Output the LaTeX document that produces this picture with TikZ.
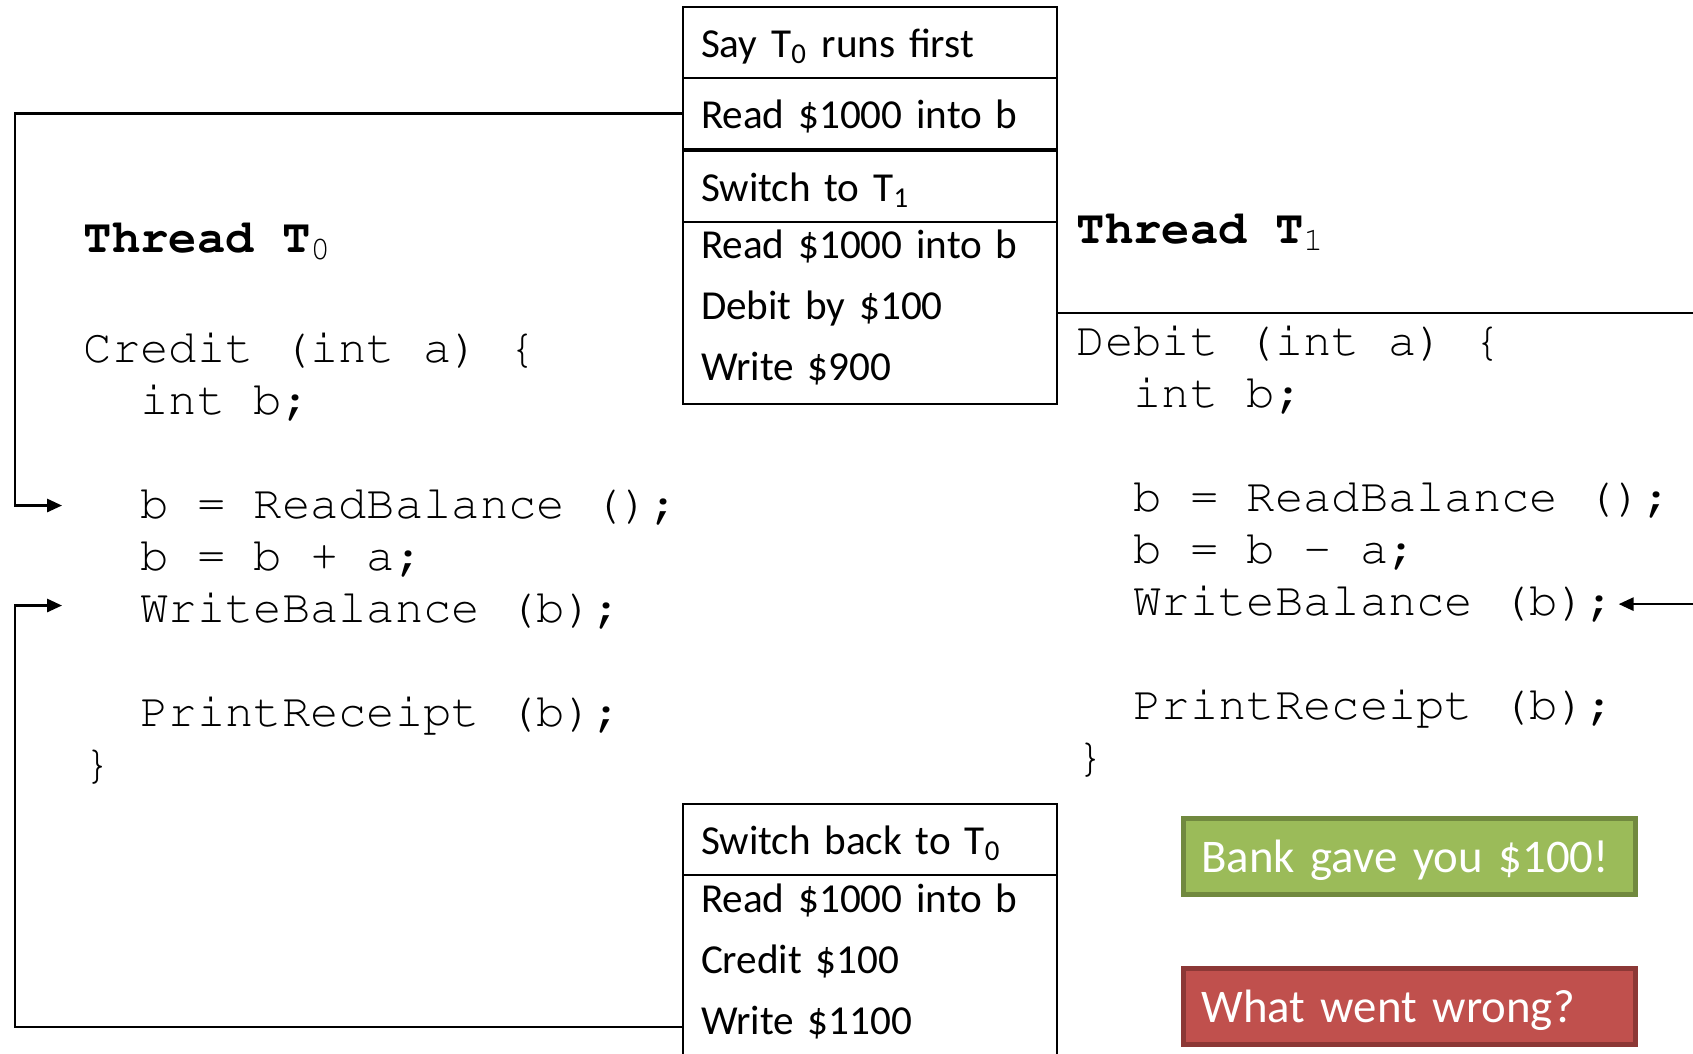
\documentclass[tikz,border=0pt]{standalone}
\usepackage[T1]{fontenc}
\usepackage{fontspec}
\setmainfont{Carlito}
\setmonofont{Liberation Mono}
\usetikzlibrary{positioning, chains, arrows.meta}

\definecolor{okgreen}{HTML}{9BBB59}
\definecolor{okgreenline}{HTML}{71893F}
\definecolor{badred}{HTML}{C0504D}
\definecolor{badredline}{HTML}{8C3836}

\newcommand{\codeind}{\hspace*{1.2em}}
\newcommand{\courierfont}{\fontencoding{T1}\fontfamily{pcr}\fontsize{11.8}{13}\selectfont}

\tikzset{
	part/.style={draw, line width=0.5pt, outer sep=0pt, inner xsep=4.5pt, inner ysep=0pt,
		minimum width=93.5pt, text width=84.5pt, align=left,
		text height=12.5pt, text depth=5.25pt, font=\fontsize{10.3}{15.25}\selectfont},
	code/.style={anchor=base west, inner sep=0pt, font=\courierfont},
	head/.style={code, font=\courierfont\bfseries},
	conn/.style={line width=0.6pt, -{Triangle[length=3.75pt, width=3.3pt]}},
	banner/.style={anchor=north west, line width=1.2pt, minimum width=113pt, minimum height=19pt,
		text width=104pt, align=left, inner xsep=4.5pt, inner ysep=0pt, text=white,
		text height=9.5pt, text depth=1.25pt, font=\fontsize{11.7}{14}\selectfont}
}

\begin{document}
\begin{tikzpicture}[x=0.25pt, y=-0.25pt]
	\useasboundingbox (0,0) rectangle (1693,1053);

	% schedule, top
	\begin{scope}[start chain=going below, node distance=0pt]
		\node[part, on chain, anchor=north west] (say0) at (683,7) {Say T\textsubscript{0} runs first};
		\node[part, on chain] (rd0) {Read \$1000 into b};
		\node[part, on chain, yshift=-0.5pt] (sw1) {Switch to T\textsubscript{1}};
		\node[part, on chain, text height=9pt, text depth=36.5pt] (ops1) {Read \$1000 into b\\Debit by \$100\\Write \$900};
	\end{scope}

	% schedule, bottom
	\node[part, anchor=north west] (back0) at (683,804) {Switch back to T\textsubscript{0}};
	\node[part, below=0pt of back0, text height=9.25pt, text depth=60pt] (ops0) {Read \$1000 into b\\Credit \$100\\Write \$1100};

	% thread T0
	\node[head] (th0) at (83,252) {Thread T\textsubscript{\mdseries 0}};
	\node[code] (cr0) at (83,362) {Credit (int a) \{};
	\node[code] (ib0) at (83,414) {\codeind int b;};
	\node[code] (rb0) at (83,518) {\codeind b = ReadBalance ();};
	\node[code] (ad0) at (83,570) {\codeind b = b + a;};
	\node[code] (wb0) at (83,622) {\codeind WriteBalance (b);};
	\node[code] (pr0) at (83,726) {\codeind PrintReceipt (b);};
	\node[code] (cl0) at (83,778) {\}};

	% thread T1
	\node[head] (th1) at (1076,243) {Thread T\textsubscript{\mdseries 1}};
	\node[code] (db1) at (1076,355) {Debit (int a) \{};
	\node[code] (ib1) at (1076,407) {\codeind int b;};
	\node[code] (rb1) at (1076,511) {\codeind b = ReadBalance ();};
	\node[code] (sb1) at (1076,563) {\codeind b = b - a;};
	\node[code] (wb1) at (1076,615) {\codeind WriteBalance (b);};
	\node[code] (pr1) at (1076,719) {\codeind PrintReceipt (b);};
	\node[code] (cl1) at (1076,771) {\}};

	\draw[conn] (rd0.west) -- ++(-668,0) |- ([xshift=-5.25pt]rb0.west);
	\draw[conn] ([yshift=-38pt]ops0.north west) -- ++(-668,0) |- ([xshift=-5.25pt, yshift=1pt]wb0.west);
	\draw[conn] (ops1.east) -- ++(700,0) |- ([xshift=0.75pt, yshift=-0.4pt]wb1.east);

	\node[banner, draw=okgreenline, fill=okgreen] (gave) at (1181,816) {\mbox{Bank gave you \$100!}};
	\node[banner, draw=badredline, fill=badred] (wrong) at (1181,966) {\mbox{What went wrong?}};
\end{tikzpicture}
\end{document}
